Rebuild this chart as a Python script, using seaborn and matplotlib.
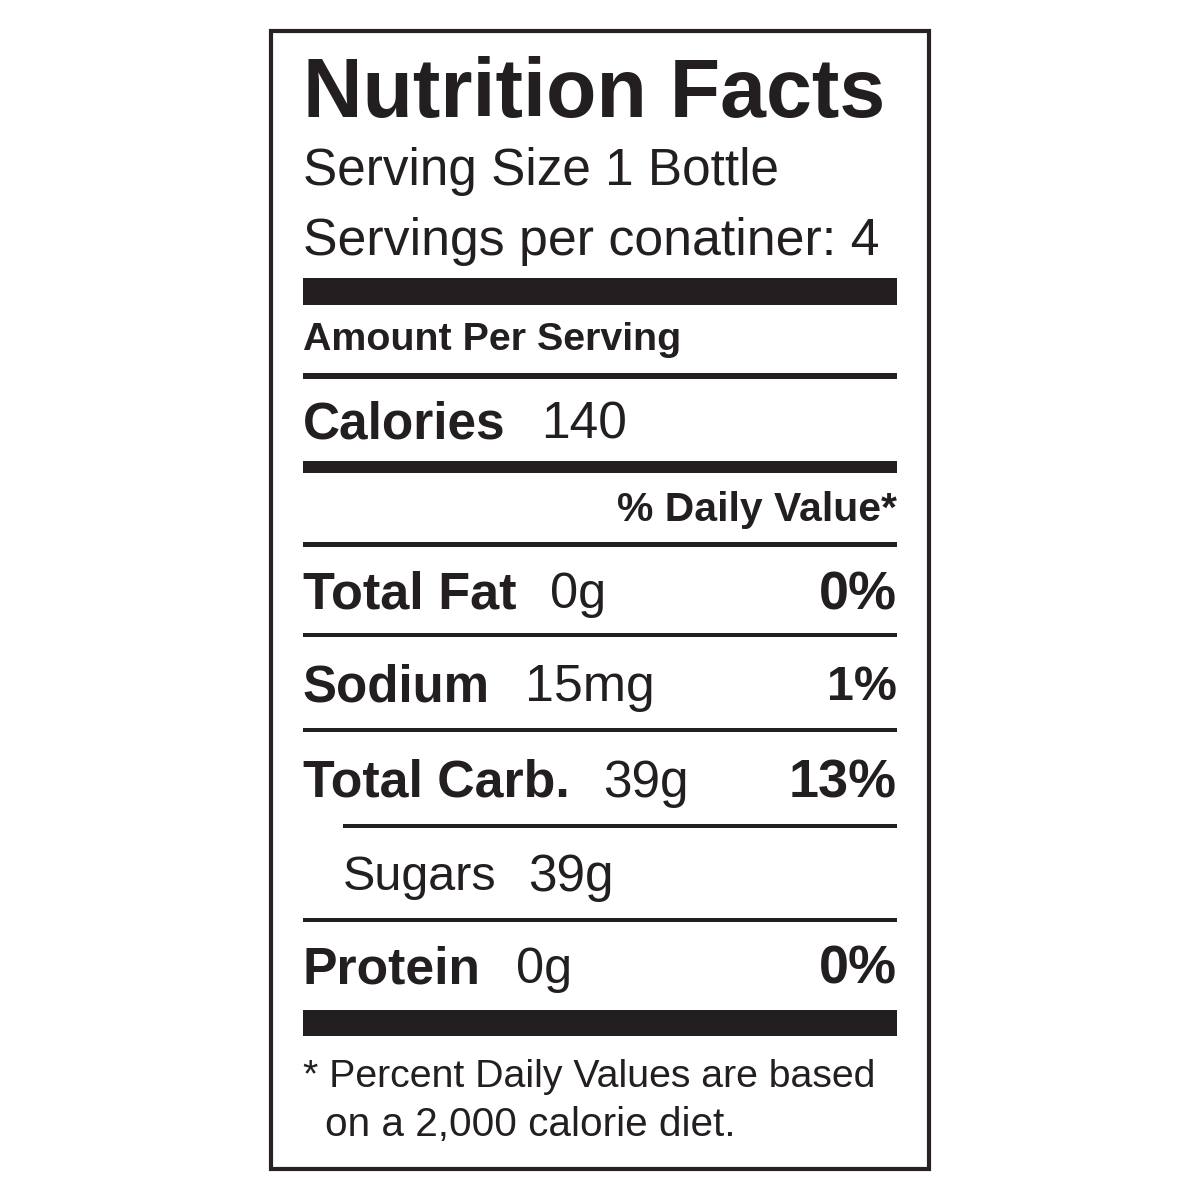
import matplotlib
matplotlib.use("Agg")
import matplotlib.pyplot as plt
import seaborn as sns

sns.set_theme(style="white")
plt.rcParams['font.family'] = ['Liberation Sans Narrow', 'DejaVu Sans Condensed', 'Liberation Sans', 'DejaVu Sans']

title = "Nutrition Facts"
serving_lines = ["Serving Size 1 Bottle", "Servings per conatiner: 4"]
calories = 140
nutrients = ["Total Fat", "Sodium", "Total Carb.", "Sugars", "Protein"]
amounts = ["0g", "15mg", "39g", "39g", "0g"]
percents = ["0%", "1%", "13%", "", "0%"]
footnote = ["* Percent Daily Values are based", "on a 2,000 calorie diet."]

fig = plt.figure(figsize=(12, 12), dpi=100)
ax = fig.add_axes([0, 0, 1, 1])
ax.set_xlim(0, 1200); ax.set_ylim(1200, 0); ax.axis("off")
ax.add_patch(plt.Rectangle((271, 31), 658, 1138, fill=False, ec="#2a2028", lw=3))

L, R = 303, 897
col = "#231f20"

def txt(x, y, s, size, width, bold=False, ha="left"):
    t = ax.text(x, y, s, fontsize=size, fontweight="bold" if bold else "normal",
                va="center", ha=ha, color=col)
    fig.canvas.draw()
    w = t.get_window_extent().width
    if w > width:
        t.set_fontsize(size * width / w)
    return t

txt(L, 95, title, 92, 582, True)
txt(L, 172, serving_lines[0], 40, 475)
txt(L, 242, serving_lines[1], 40, 577)

def bar(y, h, x0=L):
    ax.add_patch(plt.Rectangle((x0, y), R - x0, h, color=col, lw=0))

bar(278, 27)
txt(L, 340, "Amount Per Serving", 30, 378, True)
bar(373, 6)
txt(L, 425, "Calories", 44, 203, True)
txt(541, 425, str(calories), 42, 86)
bar(461, 12)
txt(R, 510, "% Daily Value*", 30, 280, True, ha="right")
bar(542, 5)

row_y = [595, 688, 783, 878, 970]
line_y = [633, 728, 824, 918]
name_w = [214, 187, 267, 154, 178]
amt_x = [550, 525, 603, 528, 516]
amt_w = [56, 130, 86, 86, 56]
pct_w = [78, 70, 108, 0, 78]
for i, (n, a, p) in enumerate(zip(nutrients, amounts, percents)):
    sub = n == "Sugars"
    x = 343 if sub else L
    txt(x, row_y[i], n, 44, name_w[i], not sub)
    txt(amt_x[i], row_y[i], a, 42, amt_w[i])
    if p:
        txt(R, row_y[i], p, 44, pct_w[i], True, ha="right")
    if i < len(line_y):
        bar(line_y[i], 4, 343 if n == "Total Carb." else L)

bar(1010, 26)
txt(L, 1077, footnote[0], 36, 573)
txt(L + 22, 1125, footnote[1], 36, 410)

fig.savefig("out.png", dpi=100, facecolor="white")
